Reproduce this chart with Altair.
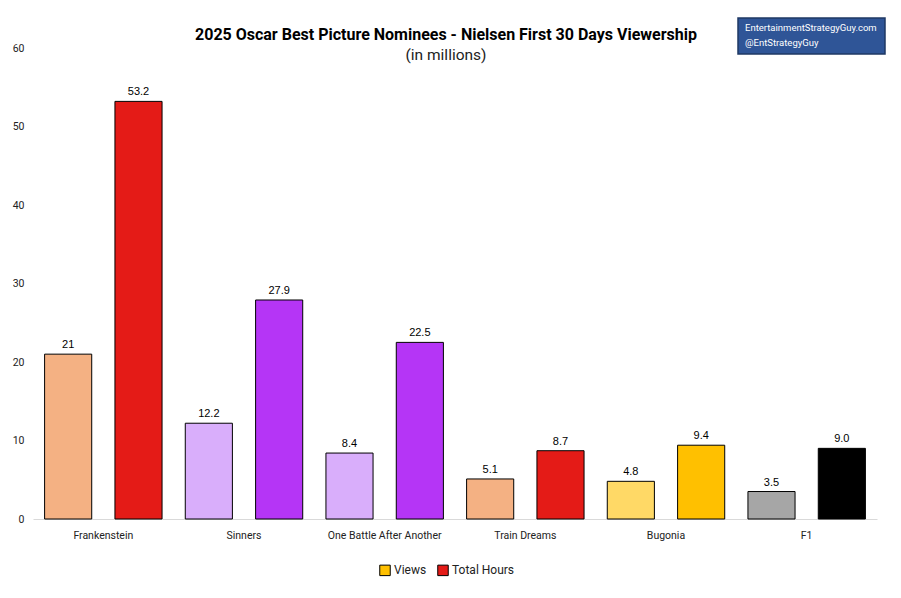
import altair as alt
import pandas as pd

categories = ["Frankenstein", "Sinners", "One Battle After Another", "Train Dreams", "Bugonia", "F1"]
views = [21.0, 12.2, 8.4, 5.1, 4.8, 3.5]
hours = [53.2, 27.9, 22.5, 8.7, 9.4, 9.0]
views_labels = ["21", "12.2", "8.4", "5.1", "4.8", "3.5"]
hours_labels = ["53.2", "27.9", "22.5", "8.7", "9.4", "9.0"]
views_colors = ["#F4B183", "#D9AEFB", "#D9AEFB", "#F4B183", "#FFD966", "#A6A6A6"]
hours_colors = ["#E41B17", "#B535F6", "#B535F6", "#E41B17", "#FFC000", "#000000"]
series = ["Views", "Total Hours"]
legend_colors = ["#FFC000", "#E41B17"]

rows = []
for i, c in enumerate(categories):
    rows.append({"category": c, "series": "Views", "value": views[i], "label": views_labels[i],
                 "fill": views_colors[i], "zero": 0})
    rows.append({"category": c, "series": "Total Hours", "value": hours[i], "label": hours_labels[i],
                 "fill": hours_colors[i], "zero": 0})
df = pd.DataFrame(rows)

FONT = "Roboto, sans-serif"

x_enc = alt.X("category:N", sort=categories, title=None,
              scale=alt.Scale(paddingInner=0, paddingOuter=0),
              axis=alt.Axis(labelAngle=0, ticks=False, domainColor="#D9D9D9", labelFontSize=10.5,
                            labelColor="#222222", labelPadding=11, labelFont=FONT))
xo_enc = alt.XOffset("series:N", sort=series, scale=alt.Scale(paddingInner=0.33, paddingOuter=0.165))
y_enc = alt.Y("value:Q", title=None,
              scale=alt.Scale(domain=[0, 60]),
              axis=alt.Axis(values=[0, 10, 20, 30, 40, 50, 60], grid=False, domain=False, ticks=False,
                            labelPadding=9, labelFontSize=10.5, labelColor="#222222", labelFont=FONT))

legend_layer = alt.Chart(df).mark_bar(strokeWidth=0).encode(
    x=x_enc, xOffset=xo_enc, y=y_enc, y2="zero:Q",
    color=alt.Color("series:N", sort=series,
                    scale=alt.Scale(domain=series, range=legend_colors),
                    legend=alt.Legend(title=None, orient="none", direction="horizontal",
                                      legendX=346, legendY=516, symbolType="square",
                                      symbolSize=110, symbolStrokeColor="black", symbolStrokeWidth=1,
                                      symbolOpacity=1, labelFontSize=12, labelFont=FONT,
                                      labelColor="#222222", columnPadding=8, labelOffset=3)),
).transform_calculate(value="0")

bars = alt.Chart(df).mark_bar(stroke="black", strokeWidth=1).encode(
    x=alt.X("category:N", sort=categories), xOffset=alt.XOffset("series:N", sort=series),
    y="value:Q",
    fill=alt.Fill("fill:N", scale=None),
)

labels = alt.Chart(df).mark_text(dy=-9, fontSize=11, font="Liberation Sans, Arial, sans-serif",
                                 color="black").encode(
    x=alt.X("category:N", sort=categories), xOffset=alt.XOffset("series:N", sort=series),
    y="value:Q", text="label:N")

badge_df = pd.DataFrame({"l1": ["EntertainmentStrategyGuy.com"], "l2": ["@EntStrategyGuy"]})
badge_rect = alt.Chart(badge_df).mark_rect(fill="#2F5597", stroke="#1F3864", strokeWidth=1.5).encode(
    x=alt.value(705), x2=alt.value(852), y=alt.value(-30), y2=alt.value(6))
badge_t1 = alt.Chart(badge_df).mark_text(align="left", baseline="middle", color="white", fontSize=9.5,
                                          font=FONT).encode(
    x=alt.value(712), y=alt.value(-20), text="l1:N")
badge_t2 = alt.Chart(badge_df).mark_text(align="left", baseline="middle", color="white", fontSize=9.5,
                                          font=FONT).encode(
    x=alt.value(712), y=alt.value(-5), text="l2:N")

chart = alt.layer(legend_layer, bars, labels, badge_rect, badge_t1, badge_t2).properties(
    width=844, height=471,
    title=alt.TitleParams(text="2025 Oscar Best Picture Nominees - Nielsen First 30 Days Viewership",
                          subtitle="(in millions)", anchor="middle", fontSize=16, fontWeight="bold",
                          subtitleFontSize=15.5, font=FONT, subtitleFont=FONT, color="black",
                          subtitleColor="#222222", dx=-9, offset=-46, subtitlePadding=5),
    autosize=alt.AutoSizeParams(type="none"),
    padding={"left": 25, "top": 40, "right": 16, "bottom": 70},
).configure(background="white").configure_view(stroke=None)

chart.save("out.html", embed_options={"renderer": "svg", "actions": False})
